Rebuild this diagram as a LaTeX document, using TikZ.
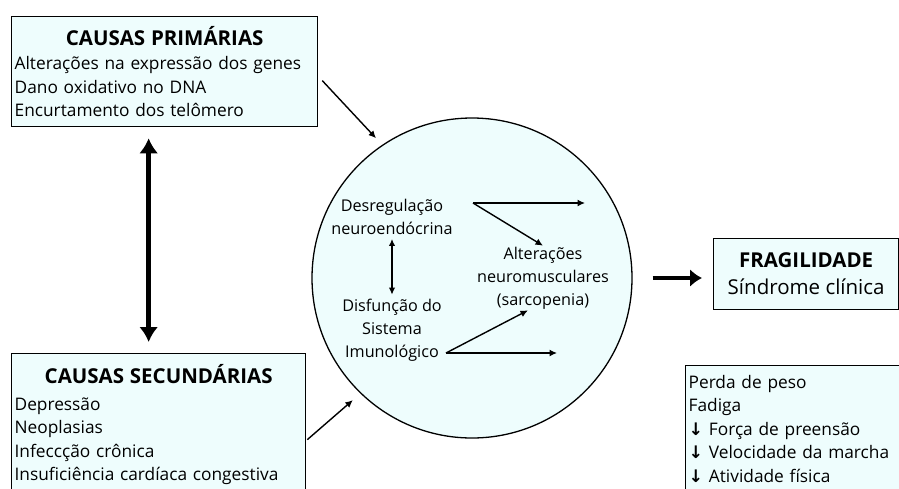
\documentclass[tikz,border=0pt]{standalone}
\usepackage{fontspec}
\setmainfont{Open Sans}
\newfontfamily\arrowfont{DejaVu Sans}
\usetikzlibrary{arrows.meta,positioning,shapes}
\definecolor{cyanfill}{RGB}{238,253,253}
\newcommand{\boxhead}[1]{\makebox[\linewidth]{\fontsize{20.5}{25}\selectfont\textbf{#1}}}
\newcommand{\lessarrow}{{\arrowfont\bfseries ↓}}
\tikzset{
  causebox/.style={draw, line width=1.3pt, fill=cyanfill, align=left, inner xsep=3pt, inner ysep=2pt, font=\fontsize{17.3}{23.5}\selectfont},
  corecircle/.style={draw, circle, line width=1.3pt, fill=cyanfill, minimum size=320pt, inner sep=0pt},
  inner/.style={align=center, inner sep=1pt, font=\fontsize{16.2}{23}\selectfont},
  thin/.style={line width=1.4pt, -{Latex[length=7.5pt,width=7pt]}},
  bold/.style={line width=4.5pt, {Latex[length=15pt,width=19pt]}-{Latex[length=15pt,width=19pt]}},
  fat/.style={line width=4.5pt, -{Latex[length=12pt,width=18pt]}}
}
\begin{document}
\begin{tikzpicture}[x=1pt,y=-1pt]
\useasboundingbox (0,0) rectangle (899,488);
% causes
\node[causebox, anchor=north west, text width=300pt, minimum height=110pt] (prim) at (11,16)
  {\boxhead{CAUSAS PRIMÁRIAS}\\[1pt]
   Alterações na expressão dos genes\\
   Dano oxidativo no DNA\\
   Encurtamento dos telômero};
\node[causebox, anchor=north west, text width=288pt, minimum height=142pt] (sec) at (11,353)
  {\boxhead{CAUSAS SECUNDÁRIAS}\\[3pt]
   Depressão\\
   Neoplasias\\
   Infeccção crônica\\
   Insuficiência cardíaca congestiva};
\draw[bold, shorten <=11pt, shorten >=11pt] ([xshift=-16pt]prim.south) -- ([xshift=-10pt]sec.north);
% circle
\node[corecircle] (core) at (472,278) {};
\node[inner] (desreg) at (392,217) {Desregulação\\neuroendócrina};
\node[inner] (disf) at (392,330) {Disfunção do\\Sistema\\Imunológico};
\node[inner] (alt) at (543,278) {Alterações\\neuromusculares\\(sarcopenia)};
\draw[thin, {Latex[length=7pt,width=6.5pt]}-{Latex[length=7pt,width=6.5pt]}, shorten <=3pt, shorten >=3pt] (desreg) -- (disf);
\coordinate (dfork) at (473,203);
\coordinate (dend) at (585,203);
\coordinate (ifork) at (446,353);
\coordinate (iend) at (557,353);
\draw[thin] (dfork) -- (dend);
\draw[thin] (dfork) -- (alt.north);
\draw[thin] (ifork) -- ([xshift=-15pt]alt.south);
\draw[thin] (ifork) -- (iend);
\draw[thin, shorten >=9pt] ([shift={(4,9)}]prim.east) -- (core.124);
\draw[thin, shorten >=10pt] ([shift={(1,15)}]sec.east) -- (core.226);
% outcome
\node[causebox, align=center, anchor=north west, minimum width=185pt, minimum height=71pt, font=\fontsize{20.5}{27}\selectfont] (frag) at (713,238)
  {\textbf{FRAGILIDADE}\\Síndrome clínica};
\draw[fat, shorten <=20pt, shorten >=11pt] (core.east) -- (core.east -| frag.west);
\node[causebox, anchor=north west, text width=230pt, minimum height=126pt] (sympt) at (685,365)
  {Perda de peso\\
   Fadiga\\
   \lessarrow{} Força de preensão\\
   \lessarrow{} Velocidade da marcha\\
   \lessarrow{} Atividade física};
\end{tikzpicture}
\end{document}
